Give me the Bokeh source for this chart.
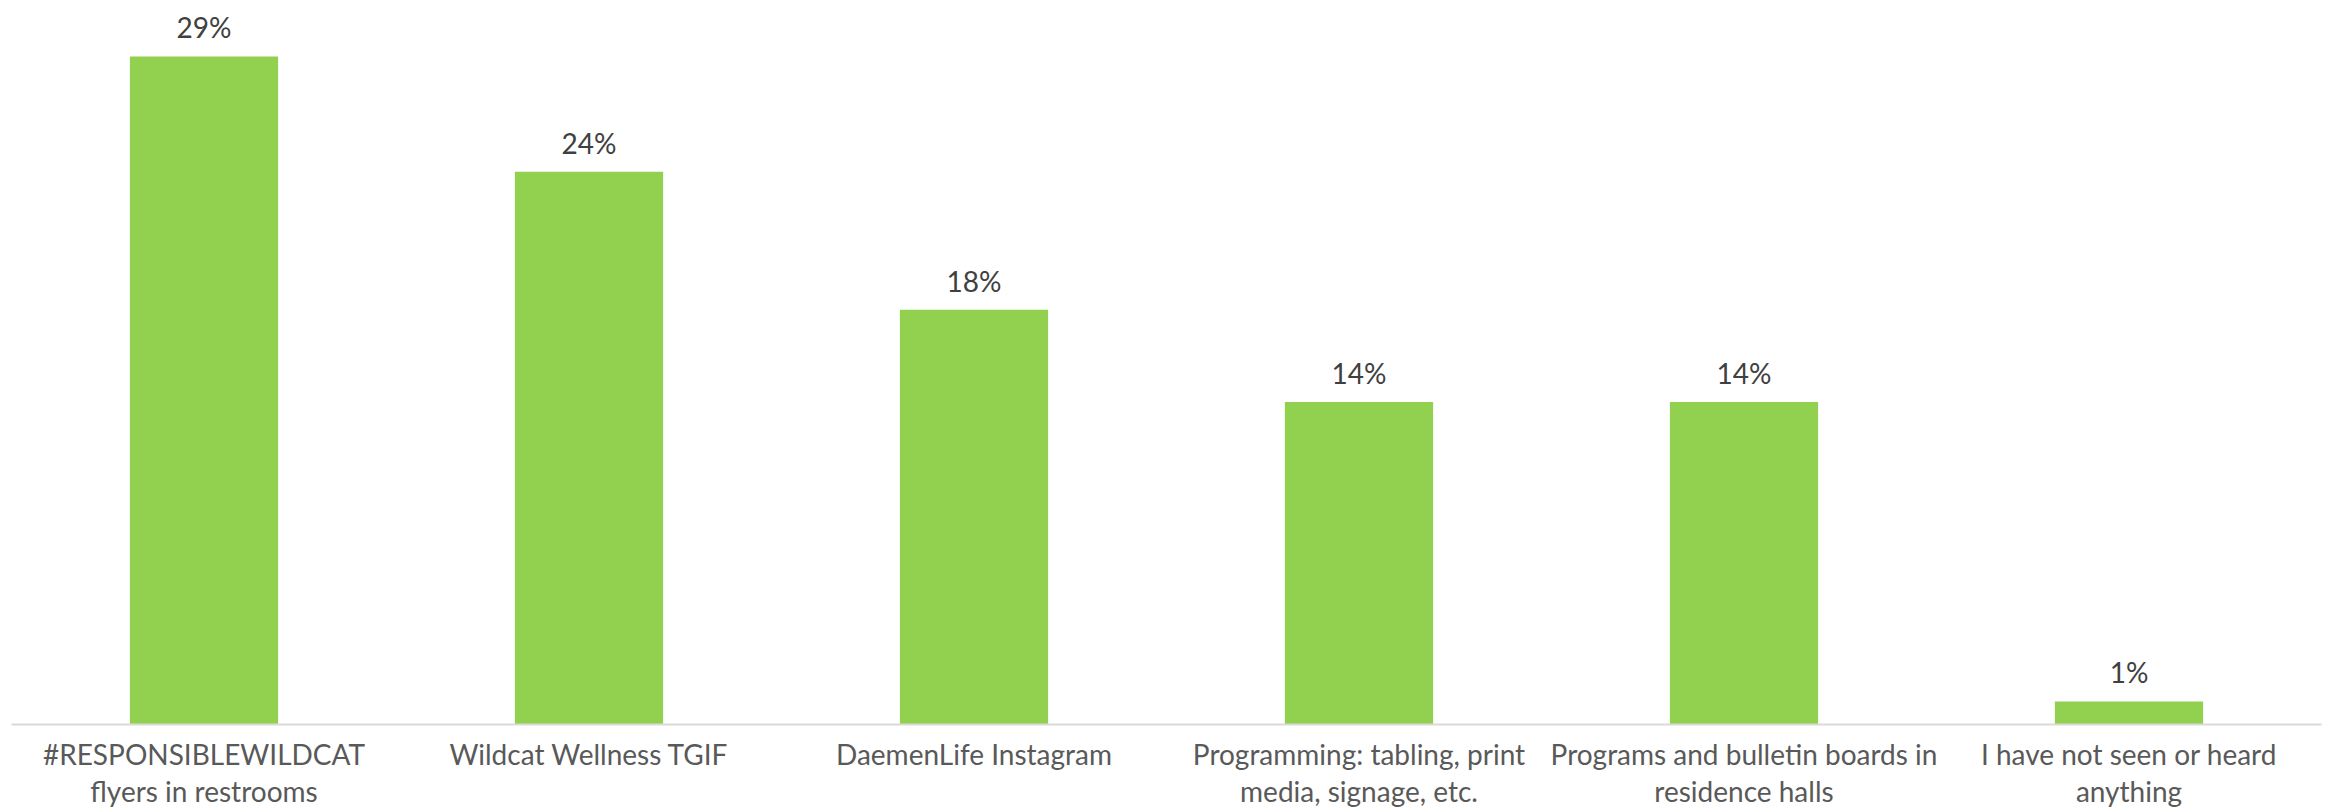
from bokeh.plotting import figure
from bokeh.models import ColumnDataSource, LabelSet, FactorRange, Range1d
from bokeh.core.properties import value
from bokeh.embed import file_html
from bokeh.resources import INLINE

categories = [
    "#RESPONSIBLEWILDCAT\nflyers in restrooms",
    "Wildcat Wellness TGIF",
    "DaemenLife Instagram",
    "Programming: tabling, print\nmedia, signage, etc.",
    "Programs and bulletin boards in\nresidence halls",
    "I have not seen or heard\nanything",
]
values = [29, 24, 18, 14, 14, 1]
labels = ["29%", "24%", "18%", "14%", "14%", "1%"]

src = ColumnDataSource(dict(cat=categories, val=values, lab=labels))

p = figure(x_range=FactorRange(*categories), y_range=Range1d(0, 31.43),
           width=2325, height=810, output_backend="svg", toolbar_location=None,
           min_border_top=0, min_border_left=11, min_border_right=4, min_border_bottom=80)
p.vbar(x="cat", top="val", width=0.385, source=src, color="#92d050", line_color=None)

lbl = LabelSet(x="cat", y="val", text="lab", source=src, y_offset=29,
               text_align="center", text_baseline="middle",
               text_font=value("Lato"), text_font_size="28px", text_color="#404040")
p.add_layout(lbl)

p.yaxis.visible = False
p.xgrid.visible = False
p.ygrid.visible = False
p.outline_line_color = None
p.xaxis.axis_line_color = "#d9d9d9"
p.xaxis.axis_line_width = 2
p.xaxis.major_tick_line_color = None
p.xaxis.minor_tick_line_color = None
p.xaxis.major_label_text_font = "Lato"
p.xaxis.major_label_text_font_size = "28px"
p.xaxis.major_label_text_color = "#595959"
p.xaxis.major_label_standoff = 6
p.xaxis.major_label_text_line_height = 1.1
p.x_range.range_padding = 0

open("out.html", "w").write(file_html(p, INLINE))
